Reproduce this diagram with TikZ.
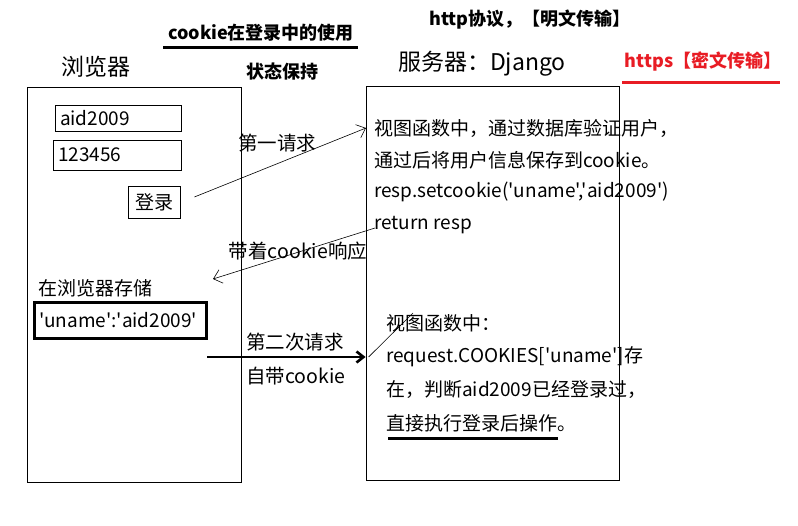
\documentclass[tikz,border=0pt]{standalone}
\usepackage{fontspec}
\setmainfont{Noto Sans CJK SC}[Ligatures=TeXOff]
\usetikzlibrary{arrows.meta}
\definecolor{alertred}{RGB}{232,28,36}
\begin{document}
\begin{tikzpicture}[x=1pt,y=-1pt,
    txt/.style={inner sep=0pt,anchor=west,font=\fontsize{19}{21}\selectfont},
    lbl/.style={inner sep=0pt,font=\fontsize{19.5}{21}\selectfont},
    head/.style={inner sep=0pt,font=\fontsize{23}{25}\selectfont},
    title/.style={inner sep=0pt,font=\fontsize{18}{20}\selectfont\bfseries},
    field/.style={draw,line width=0.8pt,inner xsep=5pt,inner ysep=0pt,align=left,font=\fontsize{19}{21}\selectfont},
    thinarr/.style={line width=0.6pt,-{Straight Barb[length=8pt,width=14pt]}},
    thickarr/.style={line width=2.6pt,-{Straight Barb[length=7pt,width=11pt]}}]
  \useasboundingbox (0,0) rectangle (798,525);
  % headings
  \draw
    (261,33) node[title] (topic){cookie在登录中的使用}
    (282,72) node[title] (keep){状态保持}
    (530,20) node[title] (http){http协议，【明文传输】}
    (703,62) node[title,text=alertred] (https){https【密文传输】}
    (96,67) node[head] (browserhd){浏览器}
    (482,64) node[head] (serverhd){服务器：Django};
  \draw[line width=3pt] (163,47) -- (358,47);
  \draw[line width=3pt,alertred] (622,82) -- (780,82);
  % the two sides
  \draw
    (134,284.5) node[draw,line width=0.8pt,minimum width=214pt,minimum height=395pt] (browser){}
    (492.5,283) node[draw,line width=0.8pt,minimum width=253pt,minimum height=394pt] (server){};
  % browser contents
  \draw
    (118,118) node[field,text width=116pt,minimum height=26pt] (user){aid2009}
    (117,155) node[field,text width=118pt,minimum height=30pt] (pwd){123456}
    (154,202) node[field,align=center,inner xsep=0pt,minimum width=52pt,minimum height=32pt] (login){登录}
    (38,288) node[txt] (storehd){在浏览器存储}
    (120,320) node[field,line width=3pt,text width=162pt,minimum height=36pt] (store){'uname':'aid2009'};
  % server contents
  \draw
    (374,128) node[txt] (view1){视图函数中，通过数据库验证用户，}
    (374,160) node[txt] (view2){通过后将用户信息保存到cookie。}
    (374,192) node[txt] (view3){resp.setcookie('uname','aid2009')}
    (374,225) node[txt] (ret){return resp}
    (386,323) node[txt] (check1){视图函数中：}
    (386,357) node[txt] (check2){request.COOKIES['uname']存}
    (386,390) node[txt] (check3){在，判断aid2009已经登录过，}
    (386,423) node[txt] (check4){直接执行登录后操作。};
  \draw[line width=3pt] (388,438) -- (558,438);
  % messages
  \draw
    (277,143) node[lbl] (first){第一请求}
    (298,251) node[lbl] (answer){带着cookie响应}
    (295,342) node[lbl] (second){第二次请求}
    (296,376) node[lbl] (carry){自带cookie};
  \coordinate (back) at (213,279);
  \coordinate (send) at (207,357);
  \coordinate (stray) at (413,313);
  \begin{scope}
    \draw[thinarr] ([shift={(14,-5)}]login.east) to ([xshift=-8pt]view1.west);
    \draw[thinarr] ([shift={(1,3)}]ret.west) to (back);
    \draw[thickarr] (send) to (server.west |- send);
    \draw[line width=0.6pt] ([xshift=3pt]server.west |- send) to (stray);
  \end{scope}
\end{tikzpicture}
\end{document}
